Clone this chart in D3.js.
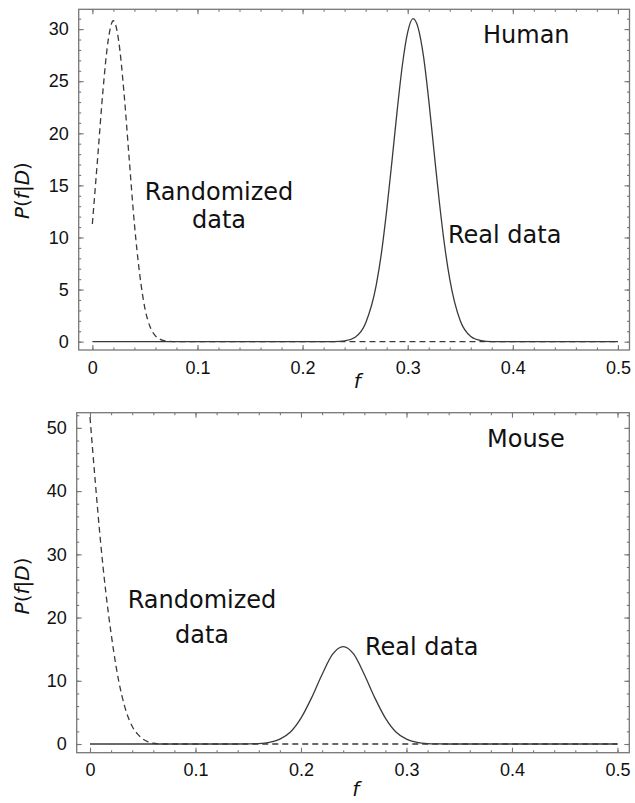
<!DOCTYPE html>
<html>
<head>
<meta charset="utf-8">
<script src="https://cdn.jsdelivr.net/npm/d3@7"></script>
<style>
  body { margin: 0; background: #fff; }
  svg { display: block; font-family: "DejaVu Sans", "Liberation Sans", sans-serif; }
  .tick text { font-size: 18px; fill: #111; }
  .tick line { stroke: #777; stroke-width: 1.1; }
  .frame { fill: none; stroke: #777; stroke-width: 1.3; }
  .curve { fill: none; stroke: #3a3a3a; stroke-width: 1.3; }
  .dashed { stroke-dasharray: 6,4; }
  .note { font-size: 24px; fill: #111; }
  .axis-title { font-size: 20px; font-style: italic; fill: #111; }
</style>
</head>
<body>
<svg id="chart" width="635" height="803"></svg>
<script>
// valores: [f, P(f|D)]
const humanReal = [[0,0],[0.22,0],[0.23,0.01],[0.24,0.08],[0.25,0.43],[0.26,1.8],[0.27,5.4],[0.275,8.5],
  [0.28,12.6],[0.285,17.3],[0.29,22.2],[0.295,26.6],[0.30,29.7],[0.305,31.0],[0.31,30.1],[0.315,27.4],
  [0.32,23.2],[0.325,18.3],[0.33,13.5],[0.335,9.3],[0.34,6.0],[0.35,2.0],[0.36,0.5],[0.37,0.1],
  [0.38,0.01],[0.39,0],[0.5,0]];
const humanRandom = [[0,11.3],[0.005,17.6],[0.01,24.0],[0.015,28.9],[0.02,30.8],[0.025,28.9],[0.03,24.0],
  [0.035,17.6],[0.04,11.3],[0.045,6.5],[0.05,3.2],[0.055,1.4],[0.06,0.56],[0.065,0.2],[0.07,0.06],
  [0.08,0],[0.5,0]];
const mouseReal = [[0,0],[0.14,0],[0.15,0.02],[0.16,0.07],[0.17,0.26],[0.18,0.77],[0.19,1.9],[0.20,4.1],
  [0.21,7.3],[0.22,11.0],[0.23,14.2],[0.24,15.4],[0.25,14.2],[0.26,11.0],[0.27,7.3],[0.28,4.1],
  [0.29,1.9],[0.30,0.77],[0.31,0.26],[0.32,0.07],[0.33,0.02],[0.34,0],[0.5,0]];
const mouseRandom = [[0,51.7],[0.005,41.5],[0.01,32],[0.015,24],[0.02,17.5],[0.025,12],[0.03,7.8],
  [0.035,4.8],[0.04,2.8],[0.045,1.6],[0.05,0.8],[0.055,0.35],[0.06,0.12],[0.065,0.03],[0.07,0],[0.5,0]];

// ticks
const xTicks = [0, 0.1, 0.2, 0.3, 0.4, 0.5];
const xMinor = d3.range(0, 0.5001, 0.02);
const humanYTicks = [0, 5, 10, 15, 20, 25, 30];
const humanYMinor = d3.range(0, 32, 1);
const mouseYTicks = [0, 10, 20, 30, 40, 50];
const mouseYMinor = d3.range(0, 53, 2);

const svg = d3.select('#chart');

const panels = [
  {
    label: 'Human', real: humanReal, random: humanRandom,
    yTicks: humanYTicks, yMinor: humanYMinor,
    left: 78.7, right: 629.5, top: 9.3, bottom: 350,
    xDomain: [-0.013, 0.511], yDomain: [-0.8, 31.9],
    labelPos: [483, 43], realPos: [448, 243], randPos: [219, 200, 228],
    yTitle: 14.5, fTitle: 388
  },
  {
    label: 'Mouse', real: mouseReal, random: mouseRandom,
    yTicks: mouseYTicks, yMinor: mouseYMinor,
    left: 76.7, right: 629.3, top: 412.7, bottom: 752.7,
    xDomain: [-0.0126, 0.5112], yDomain: [-1.375, 52.4],
    labelPos: [487, 447], realPos: [365, 655], randPos: [202, 608, 643],
    yTitle: 25, fTitle: 796
  }
];

panels.forEach(function(p) {
  let x = d3.scaleLinear().domain(p.xDomain).range([p.left, p.right]);
  let y = d3.scaleLinear().domain(p.yDomain).range([p.bottom, p.top]);
  let g = svg.append('g');

  //Ejes: marcas hacia dentro en los cuatro lados
  let noText = function(g) { g.select('.domain').remove(); };

  g.append('g').attr('transform', 'translate(0,' + p.bottom + ')')
    .call(d3.axisBottom(x).tickValues(xMinor).tickSize(-2.5).tickFormat('')).call(noText);
  g.append('g').attr('transform', 'translate(0,' + p.bottom + ')')
    .call(d3.axisBottom(x).tickValues(xTicks).tickSize(-5).tickPadding(11).tickFormat(d3.format('~g'))).call(noText);
  g.append('g').attr('transform', 'translate(0,' + p.top + ')')
    .call(d3.axisTop(x).tickValues(xMinor).tickSize(-2.5).tickFormat('')).call(noText);
  g.append('g').attr('transform', 'translate(0,' + p.top + ')')
    .call(d3.axisTop(x).tickValues(xTicks).tickSize(-5).tickFormat('')).call(noText);

  g.append('g').attr('transform', 'translate(' + p.left + ',0)')
    .call(d3.axisLeft(y).tickValues(p.yMinor).tickSize(-2.5).tickFormat('')).call(noText);
  g.append('g').attr('transform', 'translate(' + p.left + ',0)')
    .call(d3.axisLeft(y).tickValues(p.yTicks).tickSize(-5).tickPadding(10)).call(noText);
  g.append('g').attr('transform', 'translate(' + p.right + ',0)')
    .call(d3.axisRight(y).tickValues(p.yMinor).tickSize(-2.5).tickFormat('')).call(noText);
  g.append('g').attr('transform', 'translate(' + p.right + ',0)')
    .call(d3.axisRight(y).tickValues(p.yTicks).tickSize(-5).tickFormat('')).call(noText);

  g.selectAll('.tick text').attr('font-family', null).attr('font-size', null);

  g.append('rect')
    .attr('class', 'frame')
    .attr('x', p.left).attr('y', p.top)
    .attr('width', p.right - p.left).attr('height', p.bottom - p.top);

  //Curvas
  let line = d3.line()
    .x(d => x(d[0]))
    .y(d => y(d[1]))
    .curve(d3.curveMonotoneX);

  g.append('path').datum(p.random).attr('class', 'curve dashed').attr('d', line);
  g.append('path').datum(p.real).attr('class', 'curve').attr('d', line);

  //Textos
  g.append('text').attr('class', 'note').attr('x', p.labelPos[0]).attr('y', p.labelPos[1]).text(p.label);
  g.append('text').attr('class', 'note').attr('x', p.realPos[0]).attr('y', p.realPos[1]).text('Real data');
  g.append('text').attr('class', 'note').attr('text-anchor', 'middle')
    .attr('x', p.randPos[0]).attr('y', p.randPos[1]).text('Randomized');
  g.append('text').attr('class', 'note').attr('text-anchor', 'middle')
    .attr('x', p.randPos[0]).attr('y', p.randPos[2]).text('data');

  g.append('text').attr('class', 'axis-title').attr('text-anchor', 'middle')
    .attr('x', x(0.25) + 2).attr('y', p.fTitle).text('f');

  let yt = g.append('text').attr('class', 'axis-title')
    .attr('text-anchor', 'middle')
    .attr('transform', 'translate(22,' + y(p.yTitle) + ') rotate(-90)')
    .attr('dy', '0.35em');
  yt.append('tspan').text('P');
  yt.append('tspan').attr('font-style', 'normal').text('(');
  yt.append('tspan').text('f');
  yt.append('tspan').attr('font-style', 'normal').text('|');
  yt.append('tspan').text('D');
  yt.append('tspan').attr('font-style', 'normal').text(')');
});
</script>
</body>
</html>
